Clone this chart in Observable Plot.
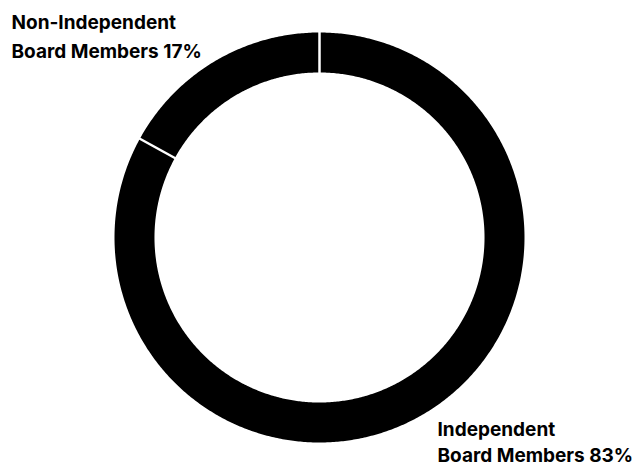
<!DOCTYPE html>
<html>
<head>
<meta charset="utf-8">
<script src="https://cdn.jsdelivr.net/npm/d3@7"></script>
<script src="https://cdn.jsdelivr.net/npm/@observablehq/plot@0.6"></script>
<style>
  html, body { margin: 0; padding: 0; background: #fff; }
  #chart svg { display: block; }
</style>
</head>
<body>
<div id="chart"></div>
<script>
// Data
const categories = ["Independent Board Members", "Non-Independent Board Members"];
const shortNames = ["Independent", "Non-Independent"];
const values = [83, 17];
const colors = ["#000000", "#000000"];

// Pie layout (clockwise from 12 o'clock)
const innerRatio = 0.805;
const total = d3.sum(values);
const slices = [];
let acc = 0;
values.forEach((v, i) => {
  const a0 = acc / total * 2 * Math.PI;
  acc += v;
  const a1 = acc / total * 2 * Math.PI;
  slices.push({name: categories[i], a0, a1, color: colors[i]});
});

const polyPoints = [];
slices.forEach(s => {
  const n = Math.max(2, Math.ceil((s.a1 - s.a0) / (Math.PI / 360)));
  for (let k = 0; k <= n; k++) {
    const a = s.a0 + (s.a1 - s.a0) * k / n;
    polyPoints.push({name: s.name, x: Math.sin(a), y: Math.cos(a), color: s.color});
  }
  for (let k = n; k >= 0; k--) {
    const a = s.a0 + (s.a1 - s.a0) * k / n;
    polyPoints.push({name: s.name, x: innerRatio * Math.sin(a), y: innerRatio * Math.cos(a), color: s.color});
  }
});

const separators = slices.map(s => ({
  x1: (innerRatio - 0.02) * Math.sin(s.a0), y1: (innerRatio - 0.02) * Math.cos(s.a0),
  x2: 1.02 * Math.sin(s.a0), y2: 1.02 * Math.cos(s.a0)
}));

const labels = [
  {text: `${shortNames[1]}\n${categories[1].replace(shortNames[1] + " ", "")} ${values[1]}%`, anchor: "top-left", dx: 11, dy: 9, lh: 1.48},
  {text: `${shortNames[0]}\n${categories[0].replace(shortNames[0] + " ", "")} ${values[0]}%`, anchor: "top-left", dx: 437, dy: 417, lh: 1.37}
];

const chart = Plot.plot({
  width: 634,
  height: 466,
  margin: 0,
  x: {domain: [-1, 1], range: [114, 524], axis: null},
  y: {domain: [-1, 1], range: [442, 32], axis: null},
  style: {background: "#fff"},
  marks: [
    Plot.line(polyPoints, {x: "x", y: "y", z: "name", fill: "color", stroke: "none", curve: "linear-closed"}),
    Plot.link(separators, {x1: "x1", y1: "y1", x2: "x2", y2: "y2", stroke: "#fff", strokeWidth: 2.5}),
    ...labels.map(l => Plot.text([l], {
      text: "text", frameAnchor: l.anchor, dx: l.dx, dy: l.dy,
      textAnchor: "start", lineAnchor: "top", lineHeight: l.lh,
      fontSize: 19, fontWeight: 700, fontFamily: "Inter, sans-serif",
      fill: "#000", style: "letter-spacing:-0.45px"
    }))
  ]
});
document.getElementById("chart").appendChild(chart);
</script>
</body>
</html>
